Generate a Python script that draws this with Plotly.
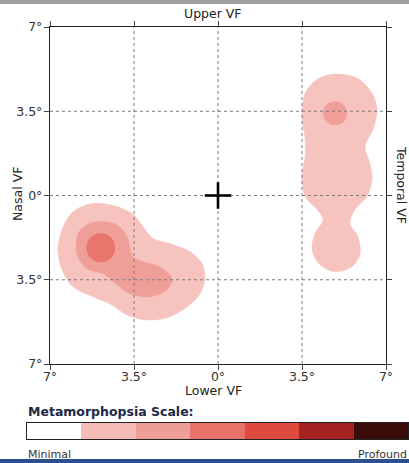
import plotly.graph_objects as go

W, H = 409, 463

# ---- data (degrees of visual field) ----
tick_vals = [-7, -3.5, 0, 3.5, 7]
tick_text = ["7°", "3.5°", "0°", "3.5°", "7°"]

# left lesion, outer (minimal) region outline
left_outer_x = [-5.21, -4.21, -3.54, -3.13, -2.71, -2.0, -1.17, -0.67, -0.54, -0.75, -1.29, -2.13,
                -2.96, -3.79, -4.5, -5.21, -6.04, -6.5, -6.67, -6.5, -6.04]
left_outer_y = [-0.33, -0.46, -0.79, -1.29, -1.79, -2.0, -2.33, -2.83, -3.46, -4.08, -4.63, -5.08,
                -5.17, -4.96, -4.5, -4.21, -3.79, -3.08, -2.25, -1.42, -0.67]
# left lesion, middle region outline
left_mid_x = [-4.92, -4.21, -3.79, -3.54, -3.13, -2.42, -1.92, -2.13, -2.83, -3.67, -4.21, -4.79,
              -5.46, -5.88, -5.83, -5.46]
left_mid_y = [-1.08, -1.21, -1.71, -2.54, -2.75, -2.96, -3.46, -3.92, -4.21, -4.08, -3.71, -3.25,
              -3.04, -2.42, -1.58, -1.21]
# right lesion, outer region outline
right_outer_x = [4.79, 5.79, 6.42, 6.63, 6.46, 6.13, 6.33, 6.42, 6.21, 5.71, 5.5, 5.83, 5.92, 5.58,
                 4.88, 4.25, 3.92, 4.04, 4.38, 4.13, 3.63, 3.5, 3.63, 3.63, 3.5, 3.63, 4.13]
right_outer_y = [5.04, 4.88, 4.25, 3.58, 2.75, 2.04, 1.33, 0.67, -0.04, -0.58, -1.17, -1.71, -2.42,
                 -2.96, -3.17, -2.88, -2.25, -1.58, -1.0, -0.58, -0.04, 0.79, 1.63, 2.33, 3.29,
                 4.25, 4.83]
# focal spots: centre x, centre y, radius, severity level
spot_x = [-4.88, 4.88]
spot_y = [-2.17, 3.42]
spot_r = [0.6, 0.5]
spot_level = [3, 2]

fixation_x = [0]
fixation_y = [0]

scale_levels = [0, 1, 2, 3, 4, 5, 6]
scale_colors = ["#ffffff", "#f5bcb8", "#ee9e97", "#e7736a", "#df4a3f", "#a52320", "#3a0d0b"]
blob_colors = {1: "#f6c3be", 2: "#ef9f98", 3: "#e8766d"}

# ---- layout geometry (pixels -> paper) ----
px0, px1, py0, py1 = 50, 386, 27, 364
dom_x = [px0 / W, px1 / W]
dom_y = [1 - py1 / H, 1 - py0 / H]

fig = go.Figure()


def add_region(xs, ys, color):
    fig.add_trace(go.Scatter(x=xs + xs[:1], y=ys + ys[:1], mode="lines", fill="toself",
                             fillcolor=color, line=dict(color=color, width=0.5, shape="spline",
                                                        smoothing=0.9),
                             hoverinfo="skip", showlegend=False))


add_region(left_outer_x, left_outer_y, blob_colors[1])
add_region(right_outer_x, right_outer_y, blob_colors[1])
add_region(left_mid_x, left_mid_y, blob_colors[2])

shapes = []
for cx, cy, r, lv in zip(spot_x, spot_y, spot_r, spot_level):
    shapes.append(dict(type="circle", xref="x", yref="y", x0=cx - r, x1=cx + r, y0=cy - r, y1=cy + r,
                       fillcolor=blob_colors[lv], line=dict(width=0), layer="above"))

# dashed grid on top of the lesions
for v in tick_vals[1:-1]:
    shapes.append(dict(type="line", xref="x", yref="y", x0=v, x1=v, y0=-7, y1=7,
                       line=dict(color="#7a7a7a", width=1, dash="3px,3px"), layer="above"))
    shapes.append(dict(type="line", xref="x", yref="y", x0=-7, x1=7, y0=v, y1=v,
                       line=dict(color="#7a7a7a", width=1, dash="3px,3px"), layer="above"))

# fixation cross (drawn above the grid)
arm = 0.55
for fx, fy in zip(fixation_x, fixation_y):
    shapes.append(dict(type="line", xref="x", yref="y", x0=fx - arm, x1=fx + arm, y0=fy, y1=fy,
                       line=dict(color="black", width=2.6), layer="above"))
    shapes.append(dict(type="line", xref="x", yref="y", x0=fx, x1=fx, y0=fy - arm, y1=fy + arm,
                       line=dict(color="black", width=2.6), layer="above"))

# metamorphopsia scale bar
fig.add_trace(go.Heatmap(z=[scale_levels], x=scale_levels, y=[0], xaxis="x2", yaxis="y2",
                         colorscale=[[i / 6, c] for i, c in enumerate(scale_colors)],
                         zmin=0, zmax=6, showscale=False, hoverinfo="skip"))

# window chrome (top grey and bottom blue strips)
shapes.append(dict(type="rect", xref="paper", yref="paper", x0=0, x1=1, y0=1 - 4 / H, y1=1,
                   fillcolor="#a0a0a0", line=dict(width=0)))
shapes.append(dict(type="rect", xref="paper", yref="paper", x0=0, x1=1, y0=0, y1=4 / H,
                   fillcolor="#2c4f8f", line=dict(width=0)))

font = "DejaVu Sans"
axis_common = dict(range=[-7, 7], tickvals=tick_vals, ticktext=tick_text, showgrid=False,
                   zeroline=False, showline=True, linecolor="#222", linewidth=1.3, mirror="ticks",
                   ticks="outside", ticklen=5, tickcolor="#444", tickwidth=1, automargin=False,
                   tickfont=dict(family=font, size=12.5, color="#333"), fixedrange=True)
bar_axis = dict(showticklabels=False, ticks="", showgrid=False, zeroline=False, showline=True,
                mirror=True, linecolor="#222", linewidth=1.2, automargin=False, fixedrange=True)


def ann(text, px, py, size=12.5, color="#222", xanchor="center", angle=0):
    return dict(text=text, x=px / W, y=1 - py / H, xref="paper", yref="paper",
                xanchor=xanchor, yanchor="middle", showarrow=False, textangle=angle,
                font=dict(family=font, size=size, color=color))


fig.update_layout(
    template="none",
    width=W, height=H, margin=dict(l=0, r=0, t=0, b=0, pad=0, autoexpand=False),
    paper_bgcolor="white", plot_bgcolor="white", showlegend=False,
    xaxis=dict(domain=dom_x, anchor="y", ticklabelstandoff=-4, **axis_common),
    yaxis=dict(domain=dom_y, anchor="x", ticklabelstandoff=-1, **axis_common),
    xaxis2=dict(domain=[27 / W, 408 / W], anchor="y2", range=[-0.5, 6.5], **bar_axis),
    yaxis2=dict(domain=[1 - 439 / H, 1 - 423 / H], anchor="x2", range=[-0.5, 0.5], **bar_axis),
    shapes=shapes,
    annotations=[
        ann("Upper VF", 213, 14),
        ann("Lower VF", 213, 390),
        ann("Nasal VF", 17, 194, angle=-90),
        ann("Temporal VF", 402, 185, angle=90),
        ann("<b>Metamorphopsia Scale:</b>", 26, 411, color="#1c2747", xanchor="left"),
        ann("Minimal", 26, 454, size=11, color="#333", xanchor="left"),
        ann("Profound", 409, 454, size=11, color="#333", xanchor="right"),
    ],
)

fig.write_html("out.html", config={"displayModeBar": False},
               post_script="document.body.style.margin='0px';")
